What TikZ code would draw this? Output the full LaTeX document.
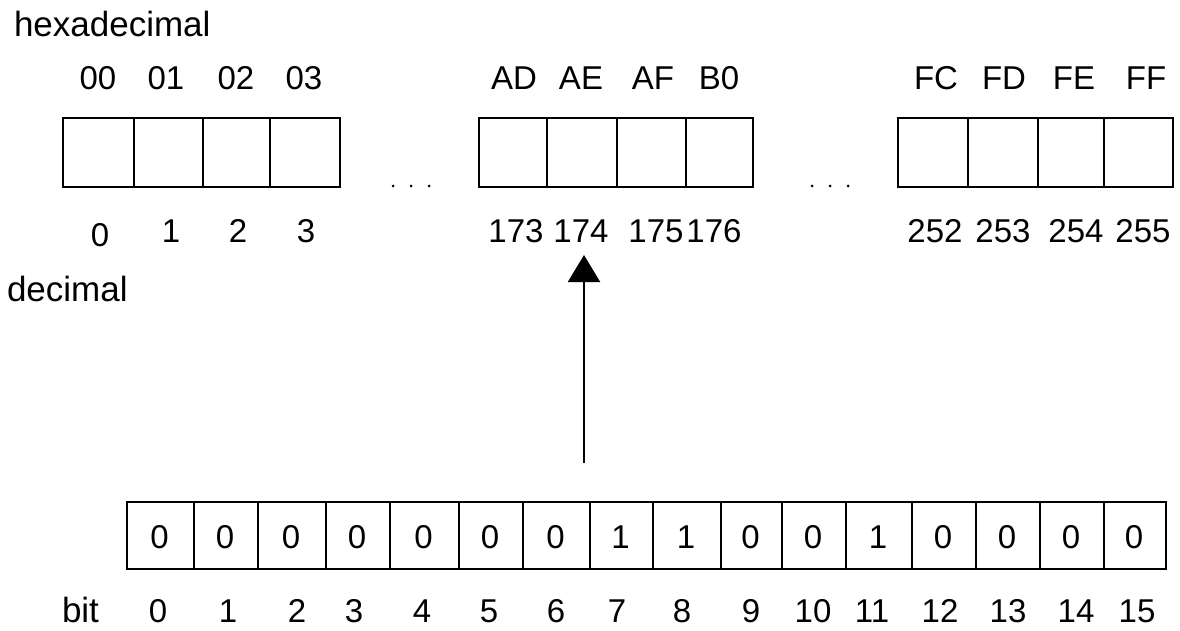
\documentclass[tikz,border=0pt]{standalone}
\usepackage{fontspec}
\setmainfont{Liberation Sans}
\usetikzlibrary{arrows.meta}
\tikzset{
  cell/.style={draw=black, line width=2pt, inner sep=0pt, outer sep=0pt, minimum height=69pt},
  num/.style={inner sep=0pt, outer sep=0pt, font=\fontsize{33}{36}\selectfont, anchor=base},
  word/.style={inner sep=0pt, outer sep=0pt, font=\fontsize{35}{38}\selectfont, anchor=base west},
  val/.style={inner sep=0pt, outer sep=0pt, font=\fontsize{33}{36}\selectfont},
  dotmark/.style={fill=black, draw=none},
  arr/.style={line width=2pt, -{Triangle[width=32pt,length=27pt]}}
}
\begin{document}
\begin{tikzpicture}[x=1pt, y=-1pt]
\useasboundingbox[fill=white] (0,0) rectangle (1180,631);

% words
\node[word] (hexw) at (14,37) {hexadecimal};
\node[word] (decw) at (7,301) {decimal};
\node[word] (bitw) at (62,622) {bit};

% top boxes, group 1
\foreach \l/\r [count=\i] in {63/134, 134/203, 203/270, 270/340} {
  \node[cell, minimum width={(\r-\l)*1pt}] (ga\i) at ({(\l+\r)/2},153) {};
}
% group 2
\foreach \l/\r [count=\i] in {479/547, 547/617, 617/686, 686/753} {
  \node[cell, minimum width={(\r-\l)*1pt}] (gb\i) at ({(\l+\r)/2},153) {};
}
% group 3
\foreach \l/\r [count=\i] in {898/968, 968/1038, 1038/1104, 1104/1173} {
  \node[cell, minimum width={(\r-\l)*1pt}] (gc\i) at ({(\l+\r)/2},153) {};
}

% hex labels
\foreach \x/\t [count=\i] in {98/00, 166/01, 236/02, 304/03, 514/AD, 581/AE, 653/AF, 719/B0, 936/FC, 1004/FD, 1074/FE, 1146/FF} {
  \node[num] (h\i) at (\x,90) {\t};
}

% decimal labels
\node[num] (d0) at (100,246) {0};
\foreach \x/\t in {171/1, 238/2, 306/3, 516/173, 581/174, 656/175, 714/176, 935/252, 1003/253, 1076/254, 1143/255} {
  \node[num] (d\t) at (\x,242) {\t};
}

% ellipsis dots
\foreach \x [count=\i] in {393, 411, 429, 812, 830, 848} {
  \fill[dotmark] (\x,186) circle (1.5pt);
}

% bottom bit row
\foreach \l/\r/\v [count=\i from 0] in {127/194/0, 194/258/0, 258/326/0, 326/390/0, 390/459/0, 459/523/0, 523/590/0, 590/653/1, 653/721/1, 721/782/0, 782/846/0, 846/912/1, 912/976/0, 976/1040/0, 1040/1104/0, 1104/1166/0} {
  \node[cell, minimum width={(\r-\l)*1pt}, minimum height=67pt] (b\i) at ({(\l+\r)/2},535.5) {};
  \node[val] (v\i) at ({(\l+\r)/2-1},537) {\v};
}

% bit labels
\foreach \x/\t in {158/0, 228/1, 297/2, 354/3, 422/4, 489/5, 556/6, 617/7, 682/8, 751/9, 813/10, 872/11, 940/12, 1008/13, 1076/14, 1137/15} {
  \node[num] (n\t) at (\x,622) {\t};
}

% arrow
\coordinate (abase) at (584,463);
\draw[arr, shorten >=13pt] (abase) -- (abase |- d174.south);
\end{tikzpicture}
\end{document}
